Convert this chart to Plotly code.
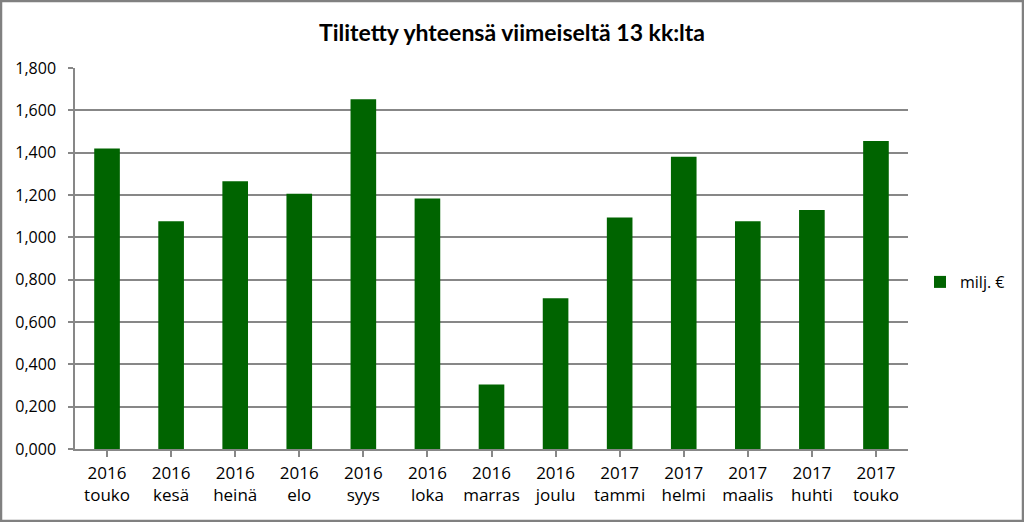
import plotly.graph_objects as go

years = ["2016", "2016", "2016", "2016", "2016", "2016", "2016", "2016",
         "2017", "2017", "2017", "2017", "2017"]
months = ["touko", "kesä", "heinä", "elo", "syys", "loka", "marras", "joulu",
          "tammi", "helmi", "maalis", "huhti", "touko"]
values = [1.420, 1.076, 1.265, 1.206, 1.652, 1.184, 0.305, 0.712,
          1.094, 1.381, 1.076, 1.129, 1.455]
series_name = "milj. €"
title_text = "Tilitetty yhteensä viimeiseltä 13 kk:lta"

categories = [f"{y}<br>{m}" for y, m in zip(years, months)]
xidx = list(range(len(categories)))

FONT = "'Open Sans', 'Noto Sans', sans-serif"
TFONT = "Lato, 'Open Sans', sans-serif"
GREEN = "#006400"
GRID = "#878787"

fig = go.Figure()
fig.add_trace(go.Bar(
    x=xidx, y=values, name=series_name,
    marker=dict(color=GREEN, line=dict(width=0)),
    showlegend=True,
))

W, H = 1024, 522
ml, mr, mt, mb = 75, 116, 68, 73
pw, ph = W - ml - mr, H - mt - mb

fig.update_layout(
    width=W, height=H,
    margin=dict(l=ml, r=mr, t=mt, b=mb, pad=0),
    paper_bgcolor="white", plot_bgcolor="white",
    separators=", ",
    bargap=0.6,
    font=dict(family=FONT, size=16, color="#000000"),
    title=dict(text="<b>" + title_text + "</b>", x=0.5, xanchor="center",
               y=1 - 33 / H, yanchor="middle", yref="container",
               font=dict(family=TFONT, size=23, color="#000000")),
    legend=dict(x=(920 - ml) / pw, y=(449 - 282) / ph, xanchor="left",
                yanchor="middle", font=dict(size=16), itemwidth=30,
                bgcolor="rgba(0,0,0,0)"),
    xaxis=dict(
        tickmode="array", tickvals=xidx, ticktext=categories,
        range=[-0.5, len(categories) - 0.5],
        showline=True, linecolor=GRID, linewidth=1.5,
        ticks="outside", tickson="boundaries", ticklen=6, tickcolor=GRID,
        tickwidth=1.5, ticklabelstandoff=2,
        showgrid=False, zeroline=False,
        tickfont=dict(size=17),
    ),
    yaxis=dict(
        range=[0, 1.8], dtick=0.2, tick0=0, tickformat=".3f",
        showline=True, linecolor=GRID, linewidth=1.5,
        ticks="outside", ticklen=5, tickcolor=GRID, tickwidth=1.5,
        ticklabelstandoff=9,
        showgrid=True, gridcolor=GRID, gridwidth=1.5,
        zeroline=False, tickfont=dict(size=16),
    ),
    shapes=[dict(
        type="rect", xref="paper", yref="paper",
        x0=-(ml - 1) / pw, x1=1 + (mr - 1) / pw,
        y0=-(mb - 1) / ph, y1=1 + (mt - 1) / ph,
        line=dict(color="#808080", width=2.5), fillcolor="rgba(0,0,0,0)",
        layer="above",
    )],
)

fig.write_html("out.html")
